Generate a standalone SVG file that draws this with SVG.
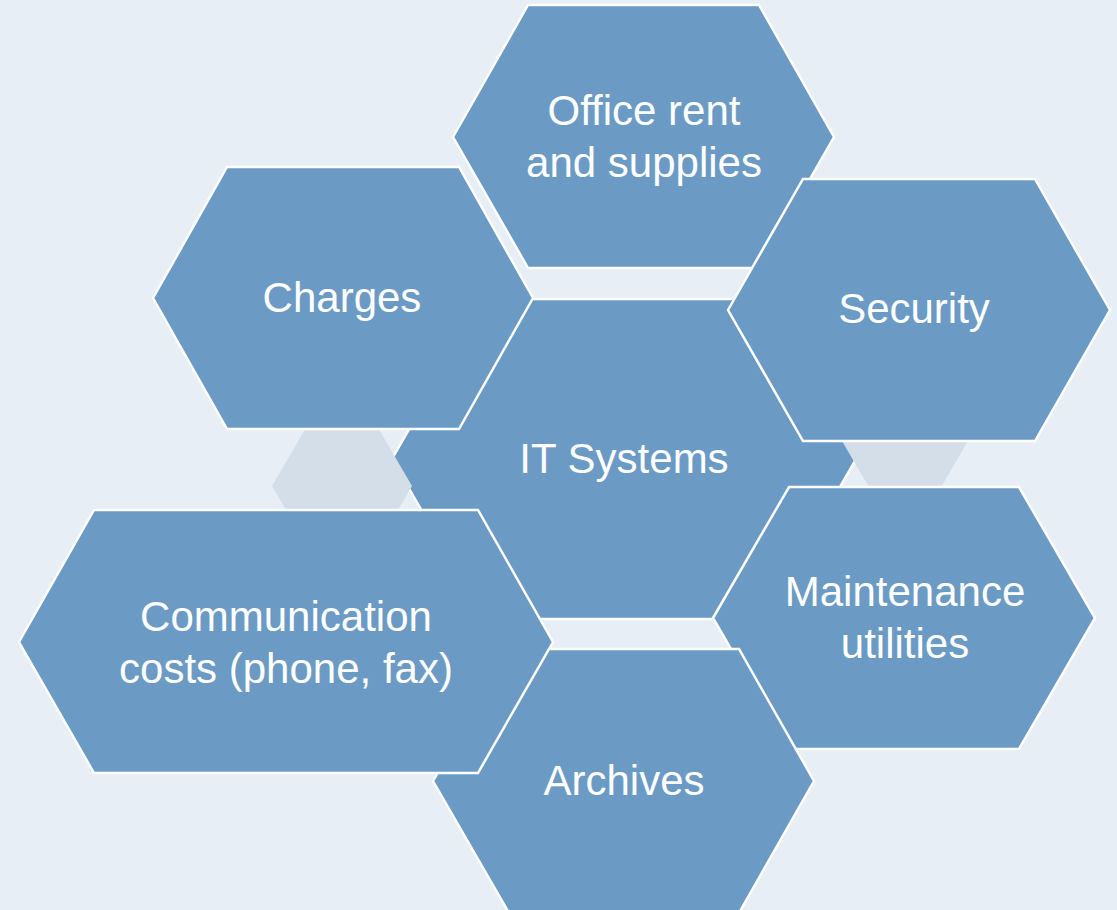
<svg xmlns="http://www.w3.org/2000/svg" width="1117" height="910" viewBox="0 0 1117 910">
<style>
.hex{fill:#6B9BC4;stroke:#FFFFFF;stroke-width:2.5;stroke-linejoin:miter}
.gray{fill:#D4DEE8;stroke:none}
.lbl{font-family:"Liberation Sans",Arial,sans-serif;font-size:42px;fill:#FFFFFF;text-anchor:middle}
</style>
<rect x="0" y="0" width="1117" height="910" fill="#E7EEF6"/>
<g id="node-it">
<polygon class="hex" points="392,459 484,299 764,299 856,459 764,619 484,619"/>
<text class="lbl" x="624" y="473">IT Systems</text>
</g>
<g id="connectors">
<polygon class="gray" points="272,486 307,426 377,426 412,486 377,546 307,546"/>
<polygon class="gray" points="835,429 870,369 940,369 975,429 940,489 870,489"/>
</g>
<g id="node-office">
<polygon class="hex" points="453,137 528,5 759,5 834,137 759,268 528,268"/>
<text class="lbl" x="644" y="125">Office rent</text>
<text class="lbl" x="644" y="177">and supplies</text>
</g>
<g id="node-security">
<polygon class="hex" points="728,310 803,179 1035,179 1110,310 1035,441 803,441"/>
<text class="lbl" x="914" y="323">Security</text>
</g>
<g id="node-maintenance">
<polygon class="hex" points="713,618 789,487 1019,487 1095,618 1019,749 789,749"/>
<text class="lbl" x="905" y="606">Maintenance</text>
<text class="lbl" x="905" y="658">utilities</text>
</g>
<g id="node-archives">
<polygon class="hex" points="433,781 509,649 739,649 814,781 739,913 509,913"/>
<text class="lbl" x="624" y="795">Archives</text>
</g>
<g id="node-communication">
<polygon class="hex" points="19,642 94,510 478,510 553,642 478,773 94,773"/>
<text class="lbl" x="286" y="631">Communication</text>
<text class="lbl" x="286" y="683">costs (phone, fax)</text>
</g>
<g id="node-charges">
<polygon class="hex" points="153,298 227,167 459,167 533,298 459,429 227,429"/>
<text class="lbl" x="342" y="312">Charges</text>
</g>
</svg>
